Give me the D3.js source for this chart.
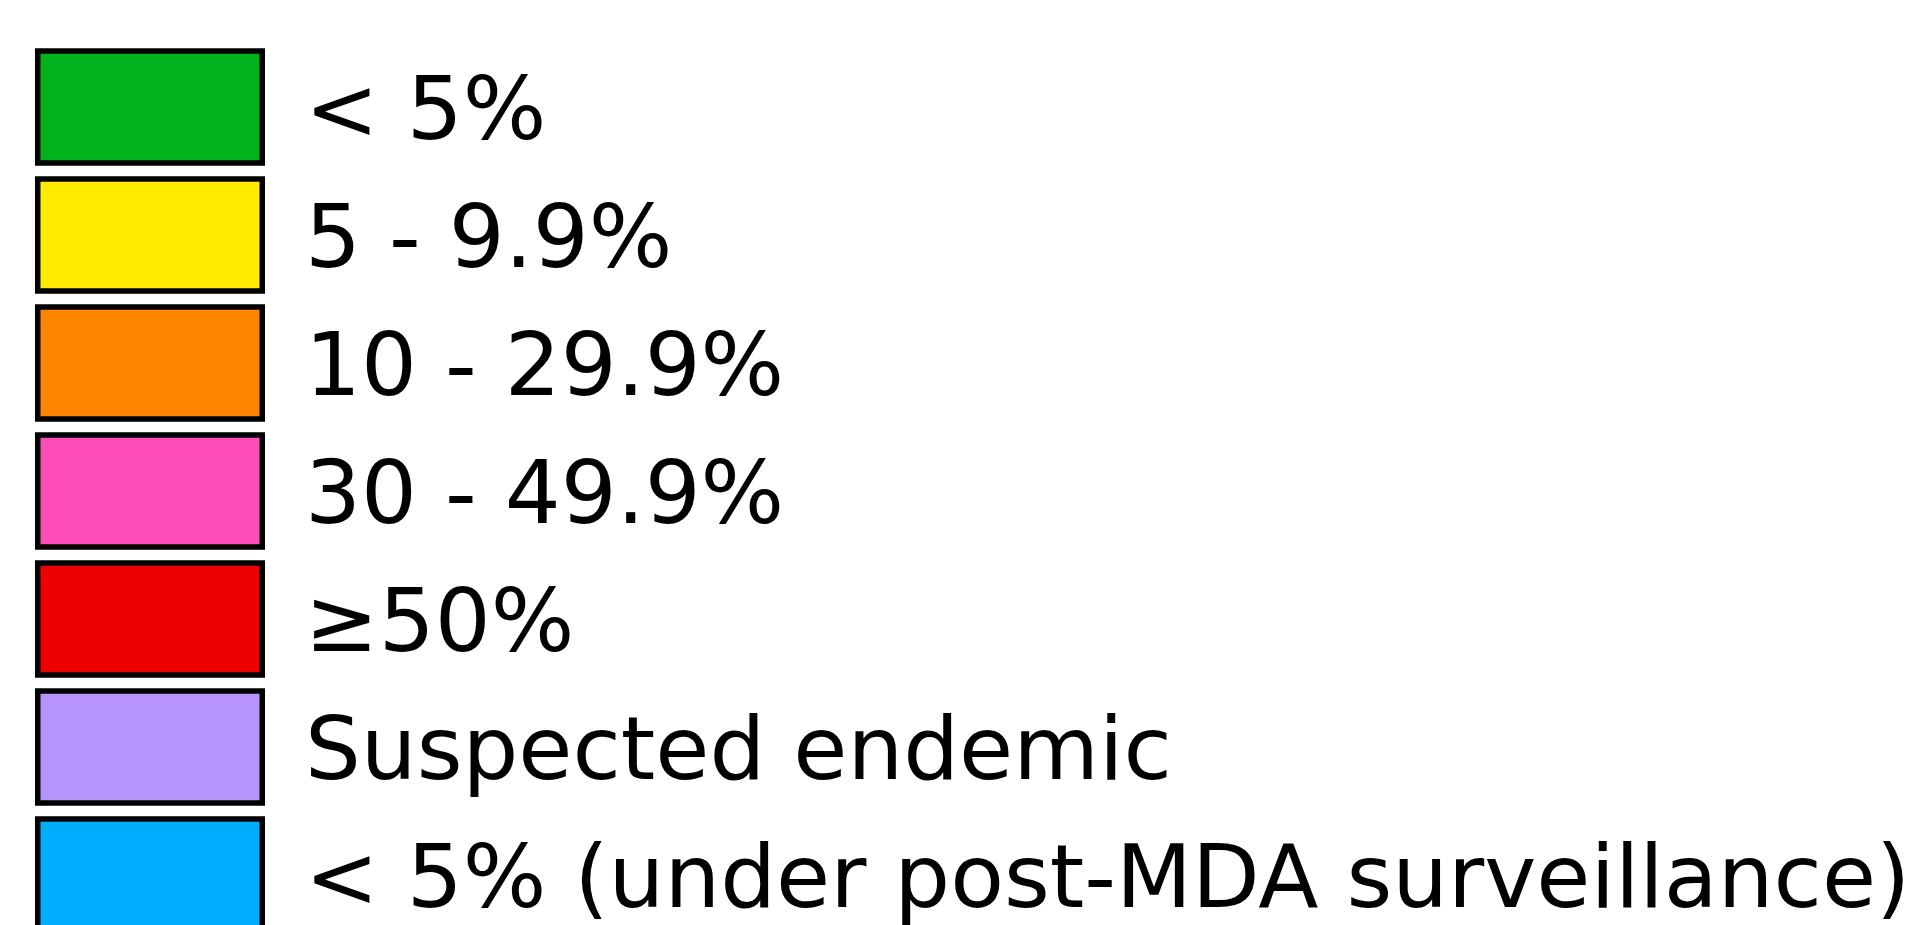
<!DOCTYPE html>
<html>
<head>
<meta charset="utf-8">
<script src="https://cdn.jsdelivr.net/npm/d3@7"></script>
<style>
  html, body { margin: 0; padding: 0; background: #fff; overflow: hidden; }
</style>
</head>
<body>
<svg id="legend" width="1925" height="925"></svg>
<script>
// Legend classes
const labels = [
    "< 5%",
    "5 - 9.9%",
    "10 - 29.9%",
    "30 - 49.9%",
    "\u226550%",
    "Suspected endemic",
    "< 5% (under post-MDA surveillance)"
];
const colors = ["#00b31c", "#ffea00", "#ff8400", "#ff4db8", "#ee0000", "#b794fc", "#00aeff"];

const svg = d3.select("#legend");

// rows: 128px pitch, 112px boxes (last one runs off the bottom)
const y = d3.scaleBand()
    .domain(d3.range(labels.length))
    .range([51, 51 + 128 * labels.length - 16])
    .paddingInner(0.125)
    .paddingOuter(0);

const rows = svg.selectAll("g.row")
    .data(labels)
    .join("g")
    .attr("class", "row")
    .attr("transform", (d, i) => `translate(0,${y(i)})`);

rows.append("rect")
    .attr("x", 37.75)
    .attr("y", 0)
    .attr("width", 224.5)
    .attr("height", y.bandwidth())
    .attr("fill", (d, i) => colors[i])
    .attr("stroke", "#000")
    .attr("stroke-width", 5.5);

rows.append("text")
    .attr("x", 305)
    .attr("y", y.bandwidth() / 2 + 32)
    .attr("font-family", "DejaVu Sans")
    .attr("font-size", 88)
    .attr("fill", "#000")
    .text(d => d);
</script>
</body>
</html>
